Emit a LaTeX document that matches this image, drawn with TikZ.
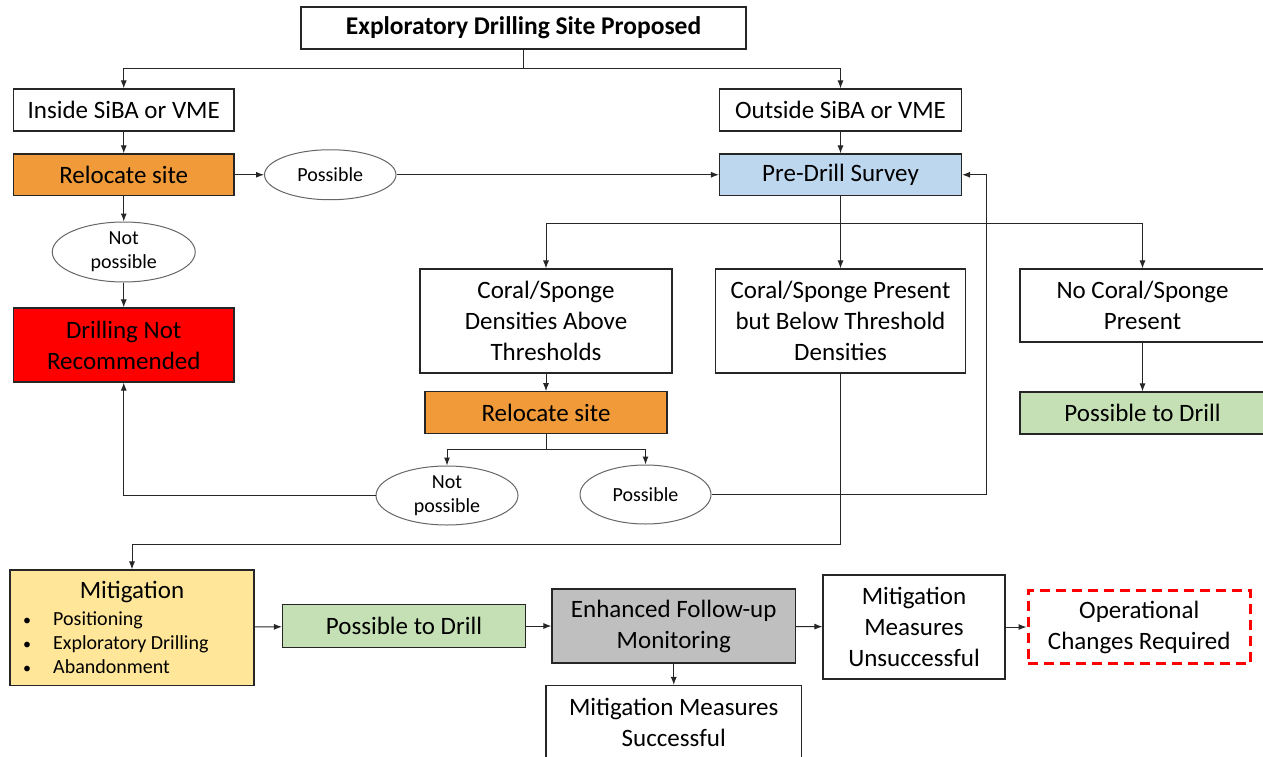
\documentclass[tikz,border=0pt]{standalone}
\usepackage{fontspec}
\setmainfont{Carlito}
\usetikzlibrary{arrows.meta,shapes.geometric}
\definecolor{sitorange}{RGB}{240,154,58}
\definecolor{surveyblue}{RGB}{189,215,238}
\definecolor{drillgreen}{RGB}{197,224,180}
\definecolor{mitiyellow}{RGB}{255,230,153}
\definecolor{monigray}{RGB}{191,191,191}
\newcommand{\mitbullet}{\makebox[30pt][l]{\fontsize{16}{24}\selectfont\textbullet}}
\begin{document}
\begin{tikzpicture}[x=1pt, y=-1pt, >={Latex[length=8pt,width=6pt]},
    box/.style={draw=black!85, line width=1.1pt, inner sep=2pt, align=center, font=\fontsize{25}{31}\selectfont},
    oval/.style={ellipse, draw=black!60, line width=1pt, fill=white, inner sep=0pt, align=center, font=\fontsize{20}{24}\selectfont},
    conn/.style={->, line width=1pt, black!85}]
\clip (0,0) rectangle (1263,757);
% top of the tree
\node[box, minimum width=445pt, minimum height=42pt, font=\bfseries\fontsize{25.5}{30}\selectfont] (prop) at (523.5,28) {Exploratory Drilling Site Proposed};
\node[box, minimum width=220.5pt, minimum height=42pt] (inside) at (123.75,110) {Inside SiBA or VME};
\node[box, minimum width=242pt, minimum height=42pt] (outside) at (840.5,110) {Outside SiBA or VME};
\node[box, fill=sitorange, minimum width=220.5pt, minimum height=41.5pt] (reloc) at (123.75,174.75) {Relocate site};
\node[box, fill=surveyblue, minimum width=242pt, minimum height=41.5pt] (survey) at (840.5,174.75) {Pre-Drill Survey};
\node[oval, minimum width=131.5pt, minimum height=50pt] (poss) at (330.25,174.75) {Possible};
\node[oval, minimum width=143pt, minimum height=60pt] (notposs) at (123.75,252) {Not\\possible};
\node[box, fill=red, minimum width=220.5pt, minimum height=74pt] (notrec) at (123.75,345) {Drilling Not\\Recommended};
\coordinate (split) at (523.5,69);
\draw[line width=1pt, black!85] (prop) -- (split);
\draw[conn] (split) -| (inside);
\draw[conn] (split) -| (outside);
\draw[conn] (inside) -- (reloc);
\draw[conn] (outside) -- (survey);
\draw[conn] (reloc) -- (poss);
\draw[conn] (poss) -- (survey);
\draw[conn] (reloc) -- (notposs);
\draw[conn] (notposs) -- (notrec);
% survey outcomes
\node[box, minimum width=252pt, minimum height=104pt] (above) at (546,321) {Coral/Sponge\\Densities Above\\Thresholds};
\node[box, minimum width=250.5pt, minimum height=104pt] (below) at (840.5,321) {Coral/Sponge Present\\but Below Threshold\\Densities};
\node[box, minimum width=245pt, minimum height=73pt] (nocoral) at (1142.5,305.5) {No Coral/Sponge\\Present};
\node[box, fill=drillgreen, minimum width=245pt, minimum height=42pt] (drillok) at (1142.5,413) {Possible to Drill};
\node[box, fill=sitorange, minimum width=242pt, minimum height=41.5pt] (reloctwo) at (546,412.5) {Relocate site};
\node[oval, minimum width=142pt, minimum height=59pt] (notposstwo) at (447,495.5) {Not\\possible};
\node[oval, minimum width=131pt, minimum height=59pt] (posstwo) at (645.5,494.5) {Possible};
\coordinate (splittwo) at (840.5,223);
\coordinate (splitthree) at (546,449);
\coordinate (back) at (986.5,494.5);
\coordinate (drop) at (840.5,544);
\draw[line width=1pt, black!85] (survey) -- (splittwo);
\draw[conn] (splittwo) -| (above);
\draw[conn] (splittwo) -- (below);
\draw[conn] (splittwo) -| (nocoral);
\draw[conn] (nocoral) -- (drillok);
\draw[conn] (above) -- (reloctwo);
\draw[line width=1pt, black!85] (reloctwo) -- (splitthree);
\draw[conn] (splitthree) -| (notposstwo);
\draw[conn] (splitthree) -| (posstwo);
\draw[conn] (notposstwo) -| (notrec);
\draw[conn] (posstwo) -- (back) |- (survey);
% mitigation row
\node[box, fill=mitiyellow, minimum width=244pt, minimum height=115.5pt] (mitig) at (132,627.75) {};
\node[font=\fontsize{25}{31}\selectfont] (mittitle) at (132,592) {Mitigation};
\node[anchor=west, align=left, inner sep=0pt, font=\fontsize{20}{24}\selectfont] (mitlist) at (23,643)
  {\mitbullet Positioning\\\mitbullet Exploratory Drilling\\\mitbullet Abandonment};
\node[box, fill=drillgreen, minimum width=243pt, minimum height=42.5pt] (drillmit) at (404,626) {Possible to Drill};
\node[box, fill=monigray, minimum width=243.5pt, minimum height=74pt] (monitor) at (673.75,626) {Enhanced Follow-up\\Monitoring};
\node[box, minimum width=182pt, minimum height=104pt] (unsucc) at (914,627) {Mitigation\\Measures\\Unsuccessful};
\node[box, draw=red, line width=3pt, dash pattern=on 10pt off 6pt, minimum width=222.5pt, minimum height=73pt] (opchange) at (1139.25,627) {Operational\\Changes Required};
\node[box, minimum width=255.5pt, minimum height=73pt] (succ) at (673.75,722) {Mitigation Measures\\Successful};
\draw[conn] (below) -- (drop) -| (mitig);
\draw[conn] (mitig) -- (drillmit);
\draw[conn] (drillmit) -- (monitor);
\draw[conn] (monitor) -- (unsucc);
\draw[conn] (unsucc) -- (opchange);
\draw[conn] (monitor) -- (succ);
\end{tikzpicture}
\end{document}
